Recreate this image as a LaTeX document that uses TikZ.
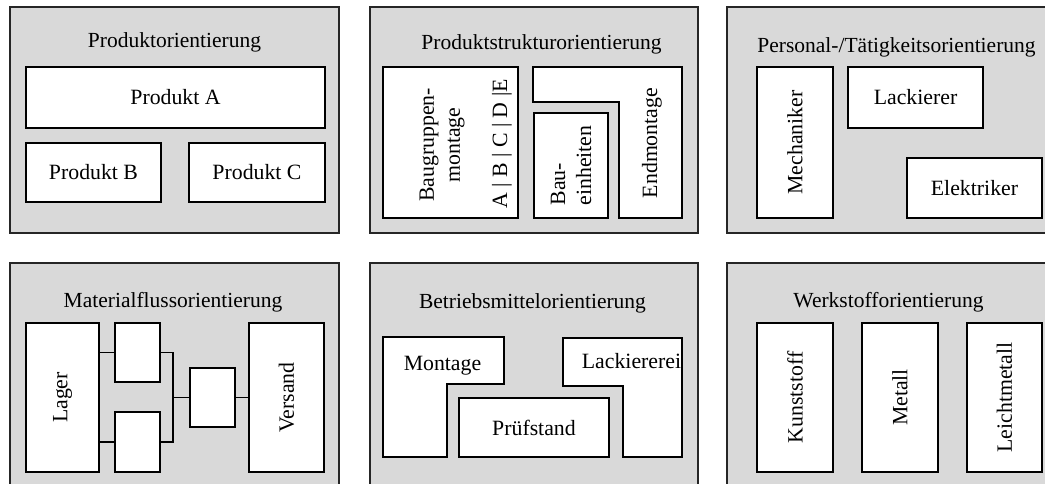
\documentclass[tikz,border=0pt]{standalone}
\usepackage{fontspec}
\setmainfont{Liberation Serif}
\definecolor{panelgray}{RGB}{217,217,217}
\begin{document}
\begin{tikzpicture}[x=1pt,y=-1pt,
  panel/.style={draw=black!85,fill=panelgray,line width=1.7pt},
  blk/.style={draw=black,fill=white,line width=1.7pt},
  box/.style={blk,inner sep=0pt,font=\fontsize{21.8}{26}\selectfont},
  vbox/.style={box,rotate=90},
  ttl/.style={anchor=base,inner sep=0pt,font=\fontsize{21.5}{26}\selectfont},
  lbl/.style={inner sep=0pt,font=\fontsize{21.8}{26}\selectfont},
  lnk/.style={line width=1.7pt}]
\path[use as bounding box] (0,0) rectangle (1045,483);
\clip (0,0) rectangle (1045,483);
% panels
\draw[panel] (10,7) rectangle (339,233);
\draw[panel] (370,7) rectangle (698,233);
\draw[panel] (727,7) rectangle (1056,233);
\draw[panel] (10,263) rectangle (339,489);
\draw[panel] (370,263) rectangle (698,489);
\draw[panel] (727,263) rectangle (1056,489);
% titles
\node[ttl] (t1) at (174.5,47) {Produktorientierung};
\node[ttl] (t2) at (541.5,49.5) {Produktstrukturorientierung};
\node[ttl] (t3) at (896.5,52.5) {Personal-/Tätigkeitsorientierung};
\node[ttl] (t4) at (173,307.5) {Materialflussorientierung};
\node[ttl] (t5) at (532.5,308) {Betriebsmittelorientierung};
\node[ttl] (t6) at (888.5,307) {Werkstofforientierung};
% produkt
\node[box,minimum width=299,minimum height=61] (proda) at (175.5,97.5) {Produkt A};
\node[box,minimum width=135,minimum height=59] (prodb) at (93.5,172.5) {Produkt B};
\node[box,minimum width=136,minimum height=59] (prodc) at (257,172.5) {Produkt C};
% produktstruktur
\node[vbox,minimum width=151,minimum height=135] (bgm) at (450.5,142.5) {};
\node[lbl,rotate=90,align=center] (bgmtxt) at (442,145) {Baugruppen-\\montage};
\node[lbl,rotate=90] (bgmvar) at (502,144) {A | B | C | D |E};
\draw[blk] (533,67) -- (682,67) -- (682,218) -- (619,218) -- (619,102) -- (533,102) -- cycle;
\node[lbl,rotate=90] (endm) at (652,143) {Endmontage};
\node[vbox,minimum width=105,minimum height=74,align=left] (baue) at (571,165.5) {Bau-\\einheiten};
% personal
\node[vbox,minimum width=151,minimum height=76] (mech) at (795,142.5) {Mechaniker};
\node[box,minimum width=135,minimum height=61] (lack) at (915.5,97.5) {Lackierer};
\node[box,minimum width=135,minimum height=60] (elek) at (974.5,188) {Elektriker};
% materialfluss
\node[vbox,minimum width=149,minimum height=73] (lager) at (62.5,397.5) {Lager};
\node[box,minimum width=45,minimum height=59] (st1) at (137.5,352.5) {};
\node[box,minimum width=45,minimum height=60] (st2) at (137.5,442) {};
\node[box,minimum width=45,minimum height=59] (st3) at (212.5,397.5) {};
\node[vbox,minimum width=149,minimum height=75] (versand) at (286.5,397.5) {Versand};
\coordinate (junc) at (173,397.5);
\draw[lnk] (st1.west) -- (st1.west -| lager.south);
\draw[lnk] (st2.west) -- (st2.west -| lager.south);
\draw[lnk] (st1.east) -| (junc) |- (st2.east);
\draw[lnk] (junc) -- (st3.west);
\draw[lnk] (st3.east) -- (st3.east -| versand.north);
% betriebsmittel
\draw[blk] (383,337) -- (504,337) -- (504,384) -- (447,384) -- (447,457) -- (383,457) -- cycle;
\node[lbl,anchor=base] (mont) at (442.5,370) {Montage};
\draw[blk] (563,338) -- (682,338) -- (682,457) -- (623,457) -- (623,386) -- (563,386) -- cycle;
\node[lbl,anchor=base] (lackerei) at (631.5,368) {Lackiererei};
\node[box,minimum width=150,minimum height=59] (pruef) at (534,427.5) {Prüfstand};
% werkstoff
\node[vbox,minimum width=149,minimum height=76] (kunst) at (795,397.5) {Kunststoff};
\node[vbox,minimum width=149,minimum height=76] (metall) at (900,397.5) {Metall};
\node[vbox,minimum width=149,minimum height=75] (leicht) at (1004.5,397.5) {Leichtmetall};
\end{tikzpicture}
\end{document}
